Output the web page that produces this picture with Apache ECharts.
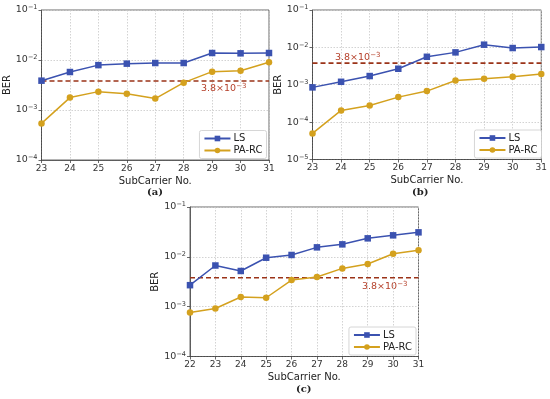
<!DOCTYPE html>
<html>
<head>
<meta charset="utf-8">
<script src="https://cdn.jsdelivr.net/npm/echarts@6/dist/echarts.min.js"></script>
<style>html,body{margin:0;padding:0;background:#fff}#c{width:550px;height:399px}</style>
</head>
<body>
<div id="c"></div>
<script>
// ---- data ----
const xA = [23, 24, 25, 26, 27, 28, 29, 30, 31];
const lsA = [3.86e-3, 5.75e-3, 7.9e-3, 8.45e-3, 8.7e-3, 8.7e-3, 1.38e-2, 1.36e-2, 1.38e-2];
const prA = [5.4e-4, 1.77e-3, 2.33e-3, 2.12e-3, 1.69e-3, 3.52e-3, 5.85e-3, 6.1e-3, 8.98e-3];

const xB = [23, 24, 25, 26, 27, 28, 29, 30, 31];
const lsB = [8.5e-4, 1.2e-3, 1.71e-3, 2.68e-3, 5.6e-3, 7.35e-3, 1.18e-2, 9.6e-3, 1.02e-2];
const prB = [5.0e-5, 2.06e-4, 2.8e-4, 4.67e-4, 6.76e-4, 1.3e-3, 1.45e-3, 1.64e-3, 1.93e-3];

const xC = [22, 23, 24, 25, 26, 27, 28, 29, 30, 31];
const lsC = [2.7e-3, 6.7e-3, 5.2e-3, 9.6e-3, 1.09e-2, 1.55e-2, 1.78e-2, 2.35e-2, 2.7e-2, 3.1e-2];
const prC = [7.66e-4, 9.2e-4, 1.56e-3, 1.51e-3, 3.42e-3, 3.93e-3, 5.86e-3, 7.16e-3, 1.15e-2, 1.35e-2];

const threshold = 3.8e-3;
const seriesNames = ['LS', 'PA-RC'];
const captions = ['(a)', '(b)', '(c)'];
const yRanges = [[1e-4, 1e-1], [1e-5, 1e-1], [1e-4, 1e-1]];
const xRanges = [[23, 31], [23, 31], [22, 31]];

// ---- style ----
const LS_COLOR = '#3b52b0';
const PR_COLOR = '#d4a11e';
const TH_COLOR = '#9b3318';
const TXT_COLOR = '#b5402a';
const FONT = 'DejaVu Sans';

const grids = [
  {left: 41.5, top: 10, width: 227.5, height: 150},
  {left: 312.5, top: 10, width: 231.5, height: 149.5},
  {left: 190, top: 207, width: 228.5, height: 149.5}
];

function zip(xs, ys) { return xs.map((x, i) => [x, ys[i]]); }

const chart = echarts.init(document.getElementById('c'), null, {renderer: 'canvas'});

const xAxes = [], yAxes = [], series = [], legends = [];
const sets = [[xA, lsA, prA], [xB, lsB, prB], [xC, lsC, prC]];

grids.forEach((g, i) => {
  xAxes.push({
    gridIndex: i, type: 'value', min: xRanges[i][0], max: xRanges[i][1], interval: 1,
    name: 'SubCarrier No.', nameLocation: 'middle', nameGap: 16,
    nameTextStyle: {fontFamily: FONT, fontSize: 10, color: '#222'},
    axisLine: {show: true, onZero: false, lineStyle: {color: '#444', width: 0.8}},
    axisTick: {show: true, length: 3, lineStyle: {color: '#444', width: 0.8}},
    axisLabel: {fontFamily: FONT, fontSize: 9, color: '#333', margin: 4},
    splitLine: {show: true, lineStyle: {color: '#c8c8c8', type: [1.5, 1.5], width: 0.8}}
  });
  yAxes.push({
    gridIndex: i, type: 'log', logBase: 10, min: yRanges[i][0], max: yRanges[i][1],
    name: 'BER', nameLocation: 'middle', nameGap: 24,
    nameTextStyle: {fontFamily: FONT, fontSize: 10, color: '#222'},
    axisLine: {show: true, lineStyle: {color: '#444', width: 0.8}},
    axisTick: {show: true, length: 3, lineStyle: {color: '#444', width: 0.8}},
    axisLabel: {
      fontFamily: FONT, fontSize: 9.5, color: '#333', margin: 4,
      formatter: v => '10{s|\u2212' + (-Math.round(Math.log10(v))) + '}',
      rich: {s: {fontSize: 6.5, fontFamily: FONT, color: '#333', verticalAlign: 'top', padding: [0, 0, 5, 0]}}
    },
    splitLine: {show: true, lineStyle: {color: '#c8c8c8', type: [1.5, 1.5], width: 0.8}}
  });
  const [xs, ls, pr] = sets[i];
  series.push({
    name: 'threshold', type: 'line', xAxisIndex: i, yAxisIndex: i,
    data: [[xRanges[i][0], threshold], [xRanges[i][1], threshold]],
    symbol: 'none', silent: true,
    lineStyle: {color: TH_COLOR, type: [5, 3], width: 1.6},
    z: 2, animation: false
  });
  series.push({
    name: seriesNames[0], type: 'line', xAxisIndex: i, yAxisIndex: i,
    data: zip(xs, ls), symbol: 'rect', symbolSize: 6.5,
    lineStyle: {color: LS_COLOR, width: 1.5}, itemStyle: {color: LS_COLOR},
    z: 3, animation: false
  });
  series.push({
    name: seriesNames[1], type: 'line', xAxisIndex: i, yAxisIndex: i,
    data: zip(xs, pr), symbol: 'circle', symbolSize: 6.5,
    lineStyle: {color: PR_COLOR, width: 1.5}, itemStyle: {color: PR_COLOR},
    z: 3, animation: false
  });
  legends.push({
    data: seriesNames, orient: 'vertical',
    right: 550 - (g.left + g.width) + 2.5, top: g.top + g.height - 29.5,
    itemWidth: 26, itemHeight: 7, itemGap: 2,
    padding: [3, 4, 3, 4],
    borderColor: '#cccccc', borderWidth: 0.8, borderRadius: 2, backgroundColor: '#fff',
    textStyle: {fontFamily: FONT, fontSize: 10, color: '#222', padding: [0, 0, 0, -2]},
    selectedMode: false
  });
});

const sup = {s: {fontSize: 7, fontFamily: FONT, color: TXT_COLOR, verticalAlign: 'top', padding: [0, 0, 5, 0]}};
const thText = '3.8\u00d710{s|\u22123}';
const thFont = '9.5px ' + FONT;
const capFont = 'bold 10px "DejaVu Serif"';
const graphics = [
  {type: 'text', left: 201, top: 83, style: {text: thText, font: thFont, fill: TXT_COLOR, rich: sup}},
  {type: 'text', left: 335, top: 52, style: {text: thText, font: thFont, fill: TXT_COLOR, rich: sup}},
  {type: 'text', left: 362, top: 281, style: {text: thText, font: thFont, fill: TXT_COLOR, rich: sup}},
  {type: 'text', left: 147, top: 187, style: {text: captions[0], font: capFont, fill: '#222'}},
  {type: 'text', left: 412, top: 187, style: {text: captions[1], font: capFont, fill: '#222'}},
  {type: 'text', left: 296, top: 384, style: {text: captions[2], font: capFont, fill: '#222'}}
];

chart.setOption({
  animation: false,
  backgroundColor: '#fff',
  grid: grids.map(g => Object.assign({show: true, borderColor: '#444', borderWidth: 0.8, backgroundColor: 'transparent'}, g)),
  xAxis: xAxes,
  yAxis: yAxes,
  legend: legends,
  series: series,
  graphic: graphics
});
</script>
</body>
</html>
